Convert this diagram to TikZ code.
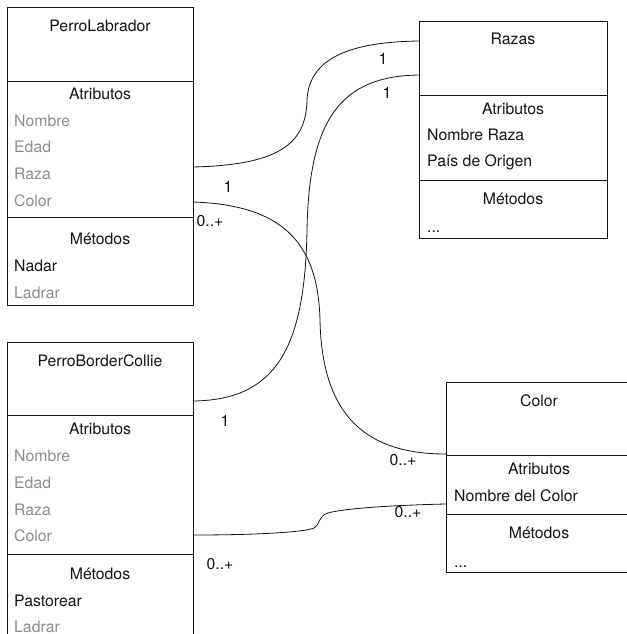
\documentclass[tikz,border=0pt]{standalone}
\usepackage{fontspec}
\setmainfont{TeX Gyre Heros}
\usetikzlibrary{calc}
\definecolor{muted}{RGB}{140,140,140}
\definecolor{ink}{RGB}{20,20,20}
\begin{document}
\begin{tikzpicture}[x=1pt,y=-1pt,
  font=\fontsize{15.8}{18}\selectfont,
  part/.style={draw=ink,line width=0.9pt,rectangle,inner sep=0pt,outer sep=0pt,anchor=north west},
  head/.style={anchor=center,text=ink,inner sep=0pt,text height=14pt,text depth=2pt},
  row/.style={anchor=west,inner sep=0pt,text height=14pt,text depth=2pt,text=ink},
  dim/.style={row,text=muted},
  wire/.style={draw=ink,line width=0.8pt},
  mult/.style={anchor=center,inner sep=0pt,text=ink,text height=14pt,text depth=2pt}]
\useasboundingbox (0,0) rectangle (626,634);
\fill[white] (0,0) rectangle (626,634);

% ---- PerroLabrador ----
\node[part,minimum width=186pt,minimum height=74pt] (labH) at (7,7) {};
\node[part,minimum width=186pt,minimum height=136pt] (labA) at (7,81) {};
\node[part,minimum width=186pt,minimum height=88pt] (labM) at (7,217) {};
\node[head] (labT) at (100,26) {PerroLabrador};
\node[head] (labAt) at (100,93) {Atributos};
\node[dim] (labN) at (14,120) {Nombre};
\node[dim] (labE) at (14,146) {Edad};
\node[dim] (labR) at (14,173) {Raza};
\node[dim] (labC) at (14,200) {Color};
\node[head] (labMt) at (100,238) {Métodos};
\node[row] (labNa) at (14,265) {Nadar};
\node[dim] (labLa) at (14,292) {Ladrar};

% ---- Razas ----
\node[part,minimum width=188pt,minimum height=74pt] (razH) at (419,21) {};
\node[part,minimum width=188pt,minimum height=85pt] (razA) at (419,95) {};
\node[part,minimum width=188pt,minimum height=58pt] (razM) at (419,180) {};
\node[head] (razT) at (513,39) {Razas};
\node[head] (razAt) at (513,108) {Atributos};
\node[row] (razN) at (427,134) {Nombre Raza};
\node[row] (razP) at (427,160) {País de Origen};
\node[head] (razMt) at (513,198) {Métodos};
\node[row] (razD) at (427,226) {...};

% ---- PerroBorderCollie ----
\node[part,minimum width=186pt,minimum height=73pt] (bcH) at (7,342) {};
\node[part,minimum width=186pt,minimum height=139pt] (bcA) at (7,415) {};
\node[part,minimum width=186pt,minimum height=100pt] (bcM) at (7,554) {};
\node[head] (bcT) at (100,360) {PerroBorderCollie};
\node[head] (bcAt) at (100,428) {Atributos};
\node[dim] (bcN) at (14,455) {Nombre};
\node[dim] (bcE) at (14,482) {Edad};
\node[dim] (bcR) at (14,509) {Raza};
\node[dim] (bcC) at (14,535) {Color};
\node[head] (bcMt) at (100,573) {Métodos};
\node[row] (bcPa) at (14,600) {Pastorear};
\node[dim] (bcLa) at (14,626) {Ladrar};

% ---- Color ----
\node[part,minimum width=186pt,minimum height=73pt] (colH) at (446,382) {};
\node[part,minimum width=186pt,minimum height=59pt] (colA) at (446,455) {};
\node[part,minimum width=186pt,minimum height=58pt] (colM) at (446,514) {};
\node[head] (colT) at (539,400) {Color};
\node[head] (colAt) at (539,468) {Atributos};
\node[row] (colN) at (454,495) {Nombre del Color};
\node[head] (colMt) at (539,532) {Métodos};
\node[row] (colD) at (454,561) {...};

% ---- associations ----
% PerroLabrador.Raza -> Razas
\draw[wire] ($(labA.north east)+(0,86)$)
  .. controls (285,165) and (306,140) .. (307,100)
  .. controls (309,58) and (350,42) .. ($(razH.north west)+(0,20)$);
% PerroBorderCollie -> Razas
\draw[wire] ($(bcH.north east)+(0,59)$)
  .. controls (275,400) and (305,350) .. (307,230)
  .. controls (309,120) and (340,76) .. ($(razH.north west)+(0,54)$);
% PerroLabrador.Color -> Color
\draw[wire] ($(labA.north east)+(0,121)$)
  .. controls (280,205) and (318,240) .. (320,320)
  .. controls (322,420) and (370,454) .. ($(colH.south west)+(0,-1)$);
% PerroBorderCollie.Color -> Color
\draw[wire] ($(bcA.north east)+(0,120)$)
  .. controls (260,535) and (305,532) .. (314,528)
  .. controls (320,525) and (318,516) .. (328,513)
  .. controls (345,508) and (400,505) .. ($(colA.north west)+(0,49)$);

% ---- multiplicities ----
\node[mult] (m1) at (228,186) {1};
\node[mult] (m2) at (210,220) {0..+};
\node[mult] (m3) at (383,58) {1};
\node[mult] (m4) at (387,92) {1};
\node[mult] (m5) at (225,420) {1};
\node[mult] (m6) at (403,459) {0..+};
\node[mult] (m7) at (408,511) {0..+};
\node[mult] (m8) at (220,563) {0..+};
\end{tikzpicture}
\end{document}
